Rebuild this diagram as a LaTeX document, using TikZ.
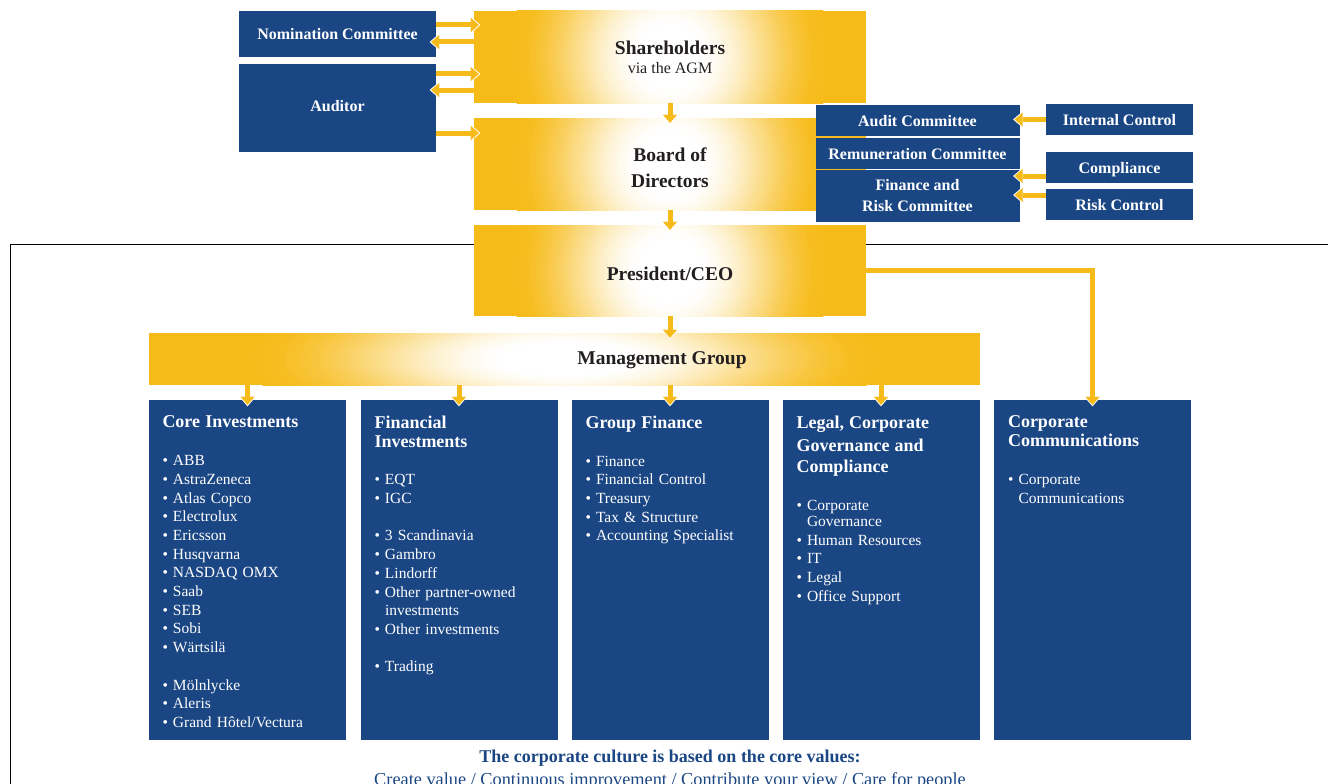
\documentclass[tikz,border=0pt]{standalone}
\usepackage{fontspec}
\setmainfont{Liberation Serif}
\usetikzlibrary{arrows.meta}
\definecolor{invblue}{RGB}{26,70,132}
\definecolor{invyellow}{RGB}{247,187,25}
\definecolor{txtdark}{RGB}{35,31,32}
\newcommand{\bitem}[1]{\makebox[10.5pt][l]{\textbullet}#1}
\newcommand{\bcont}[1]{\hspace*{10.5pt}#1}
\newcommand{\ctitle}[1]{{\fontsize{18}{20}\selectfont\bfseries #1}}
\begin{document}
\begin{tikzpicture}[x=1pt,y=-1pt,
    glow/.style 2 args={fill=invyellow, path picture={
        \foreach \i in {0,...,60}{
            \pgfmathtruncatemacro\pct{100-100*(3*(\i/60)^2-2*(\i/60)^3)}
            \fill[invyellow!\pct!white] (path picture bounding box.center)
                ellipse[x radius={#1*(1-\i/72)}, y radius={#2*(1-\i/72)}];}}},
    ybox/.style={glow={160}{160}, inner sep=0pt, text=txtdark, align=center,
        minimum width=392pt, minimum height=92pt,
        font=\fontsize{19.5}{26}\selectfont\bfseries},
    bbox/.style={fill=invblue, text=white, inner sep=0pt, align=center,
        font=\fontsize{16}{21}\selectfont\bfseries},
    onel/.style={text height=11pt, text depth=0pt},
    colbox/.style={fill=invblue, inner sep=0pt, minimum width=197pt, minimum height=340pt},
    coltext/.style={text=white, anchor=north west, inner sep=0pt, text width=178pt,
        align=left, font=\fontsize{15.5}{18.7}\selectfont},
    arr/.style={draw=invyellow, line width=5pt,
        -{Triangle[width=14pt,length=8pt,line width=0.1pt]}, shorten >=-5pt,
        preaction={draw=white, line width=5pt,
            -{Triangle[width=18pt,length=10.5pt,line width=0.1pt]}, shorten >=-6.5pt}}]
    \useasboundingbox (0,0) rectangle (1328,784);
    \draw[line width=1pt] (1328,244) -- (10,244) -- (10,784);

    \node[ybox] (sh) at (670,57) {Shareholders\\[-7pt]{\fontsize{16}{18}\selectfont\mdseries via the AGM}};
    \node[ybox] (bod) at (670,164) {\rule{0pt}{21pt}Board of\\Directors};
    \node[ybox, minimum height=91pt] (ceo) at (670,270.5) {\rule{0pt}{20pt}President/CEO};
    \node[glow={320}{80}, inner sep=0pt, minimum width=831pt, minimum height=52pt] (mg) at (564.5,359) {};
    \node[text=txtdark, font=\fontsize{19.5}{24}\selectfont\bfseries] (mgtxt) at (662,360) {Management Group};

    \node[bbox, onel, minimum width=197pt, minimum height=46pt] (nom) at (337.5,34) {Nomination Committee};
    \node[bbox, text depth=4pt, minimum width=197pt, minimum height=88pt] (aud) at (337.5,108) {Auditor};

    \node[bbox, onel, minimum width=204pt, minimum height=31pt] (ac) at (917.5,120.5) {Audit Committee};
    \node[bbox, onel, minimum width=204pt, minimum height=31pt] (rc) at (917.5,153.5) {Remuneration Committee};
    \node[bbox, minimum width=204pt, minimum height=52pt] (frc) at (917.5,196) {Finance and\\Risk Committee};
    \node[bbox, onel, minimum width=147pt, minimum height=31pt] (ic) at (1119.5,119.5) {Internal Control};
    \node[bbox, onel, minimum width=147pt, minimum height=31pt] (comp) at (1119.5,167.5) {Compliance};
    \node[bbox, onel, minimum width=147pt, minimum height=31pt] (rk) at (1119.5,204.5) {Risk Control};

    \node[colbox] (core) at (247.5,570) {};
    \node[colbox] (fin) at (459,570) {};
    \node[colbox] (gf) at (670,570) {};
    \node[colbox] (leg) at (881,570) {};
    \node[colbox] (cc) at (1092.5,570) {};

    \node[coltext] (coretxt) at ([xshift=13.5pt,yshift=-16pt]core.north west) {\ctitle{Core Investments}\\[19pt]
        \bitem{ABB}\\ \bitem{AstraZeneca}\\ \bitem{Atlas Copco}\\ \bitem{Electrolux}\\
        \bitem{Ericsson}\\ \bitem{Husqvarna}\\ \bitem{NASDAQ OMX}\\ \bitem{Saab}\\
        \bitem{SEB}\\ \bitem{Sobi}\\ \bitem{Wärtsilä}\\[18.7pt]
        \bitem{Mölnlycke}\\ \bitem{Aleris}\\ \bitem{Grand Hôtel/Vectura}};
    \node[coltext] (fintxt) at ([xshift=14pt,yshift=-16pt]fin.north west) {\ctitle{Financial\\Investments}\\[19pt]
        \bitem{EQT}\\ \bitem{IGC}\\[18.7pt]
        \bitem{3 Scandinavia}\\ \bitem{Gambro}\\ \bitem{Lindorff}\\
        \bitem{Other partner-owned}\\ \bcont{investments}\\ \bitem{Other investments}\\[18.7pt]
        \bitem{Trading}};
    \node[coltext] (gftxt) at ([xshift=14pt,yshift=-16pt]gf.north west) {\ctitle{Group Finance}\\[19pt]
        \bitem{Finance}\\ \bitem{Financial Control}\\ \bitem{Treasury}\\
        \bitem{Tax \& Structure}\\ \bitem{Accounting Specialist}};
    \node[coltext] (legtxt) at ([xshift=14pt,yshift=-16pt]leg.north west) {\ctitle{Legal, Corporate\\[2.8pt]Governance and\\[2.8pt]Compliance}\\[19pt]
        \bitem{Corporate}\\[-2.7pt] \bcont{Governance}\\ \bitem{Human Resources}\\
        \bitem{IT}\\ \bitem{Legal}\\ \bitem{Office Support}};
    \node[coltext] (cctxt) at ([xshift=14pt,yshift=-16pt]cc.north west) {\ctitle{Corporate\\Communications}\\[19pt]
        \bitem{Corporate}\\ \bcont{Communications}};

    \node[anchor=base, text=invblue, font=\fontsize{18}{20}\selectfont\bfseries] (culture) at (670,762) {The corporate culture is based on the core values:};
    \node[anchor=base, text=invblue, font=\fontsize{18.3}{20}\selectfont] (values) at (670,785) {Create value / Continuous improvement / Contribute your view / Care for people};

    \draw[arr] ([yshift=9pt]nom.east) -- ([yshift=9pt]nom.east -| sh.west);
    \draw[arr] ([yshift=-8pt]nom.east -| sh.west) -- ([yshift=-8pt]nom.east);
    \draw[arr] ([yshift=34pt]aud.east) -- ([yshift=34pt]aud.east -| sh.west);
    \draw[arr] ([yshift=18pt]aud.east -| sh.west) -- ([yshift=18pt]aud.east);
    \draw[arr] ([yshift=-25pt]aud.east) -- ([yshift=-25pt]aud.east -| bod.west);
    \draw[arr] (sh) -- (bod);
    \draw[arr] (bod) -- (ceo);
    \draw[arr] (ceo.south) -- (ceo.south |- mg.north);
    \foreach \c in {core,fin,gf,leg}
        \draw[arr] (\c.north |- mg.south) -- (\c.north);
    \draw[arr] (ceo.east) -| (cc.north);
    \draw[arr] (ic.west) -- (ic.west -| ac.east);
    \draw[arr] ([yshift=-8.5pt]comp.west) -- ([yshift=-8.5pt]comp.west -| frc.east);
    \draw[arr] ([yshift=9.5pt]rk.west) -- ([yshift=9.5pt]rk.west -| frc.east);
\end{tikzpicture}
\end{document}
